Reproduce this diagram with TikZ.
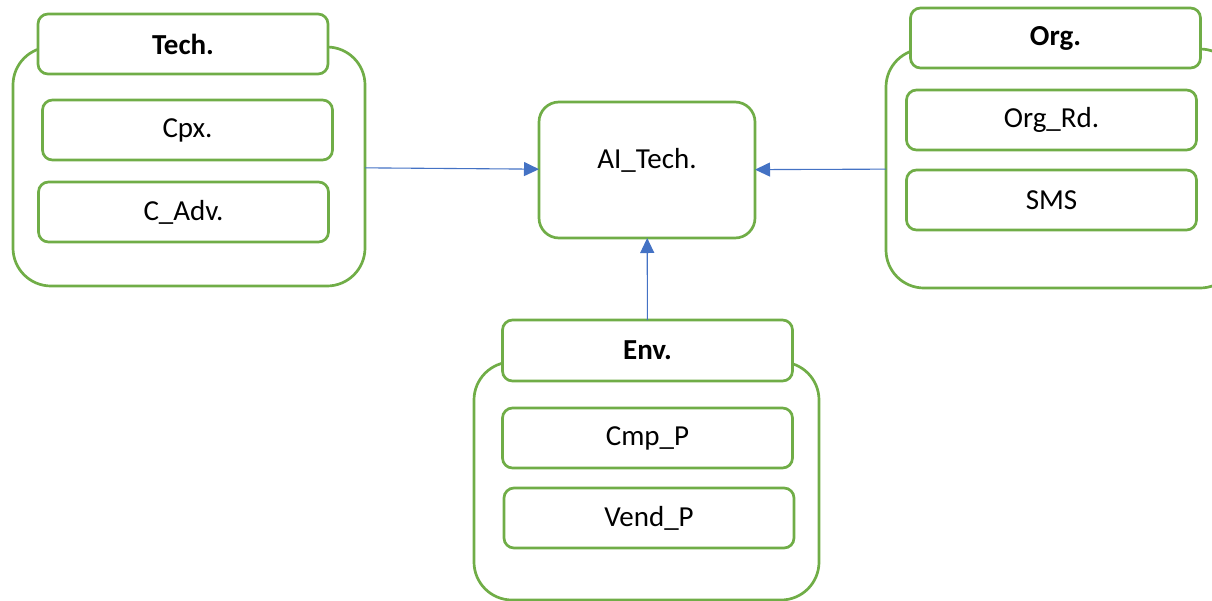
\documentclass[tikz,border=0pt]{standalone}
\usepackage{fontspec}
\setmainfont{Carlito}
\usetikzlibrary{positioning, arrows.meta}
\definecolor{boxgreen}{HTML}{70AD47}
\definecolor{arrowblue}{HTML}{4472C4}
\tikzset{
  group/.style={draw=boxgreen, line width=2.7pt, outer sep=0pt, rounded corners=38pt, minimum width=352pt, minimum height=239pt},
  title/.style={draw=boxgreen, fill=white, line width=2.7pt, outer sep=0pt, rounded corners=10pt, minimum width=290pt, minimum height=60pt, font=\fontsize{29}{35}\selectfont\bfseries},
  item/.style={draw=boxgreen, line width=2.7pt, outer sep=0pt, rounded corners=10pt, minimum width=290pt, minimum height=60pt},
  link/.style={-{Triangle[length=15pt,width=14pt]}, draw=arrowblue, line width=1.1pt}
}

\begin{document}
\begin{tikzpicture}[x=1pt, y=-1pt, every node/.style={font=\fontsize{29}{35}\selectfont, inner sep=0pt}]
\useasboundingbox (0,0) rectangle (1212,600);

% Tech.
\node[group] (techG) at (189,166.5) {};
\node[title] (techT) at (183,44) {Tech.};
\node[item, below=26pt of techT, xshift=4.5pt] (cpx) {Cpx.};
\node[item, below=22pt of cpx, xshift=-4pt] (cadv) {C\_Adv.};

% AI_Tech.
\node[item, minimum width=216pt, minimum height=136pt, rounded corners=20pt,
      label={[yshift=10pt]center:AI\_Tech.}] (ai) at (647,170) {};

% Org.
\node[group] (orgG) at (1062,168.5) {};
\node[title] (orgT) at (1055.5,38) {Org.};
\node[item, below=22pt of orgT, xshift=-4pt] (orgrd) {Org\_Rd.};
\node[item, below=20pt of orgrd] (sms) {SMS};

% Env.
\node[group, minimum width=345pt, minimum height=238pt] (envG) at (646.5,481) {};
\node[title, minimum height=61pt] (envT) at (647.5,350.5) {Env.};
\node[item, below=27pt of envT] (cmp) {Cmp\_P};
\node[item, below=20pt of cmp, xshift=1.5pt] (vend) {Vend\_P};

\draw[link] (techG) -- (ai);
\draw[link] (orgG) -- (ai);
\draw[link] (envT) -- (ai);

\end{tikzpicture}
\end{document}
